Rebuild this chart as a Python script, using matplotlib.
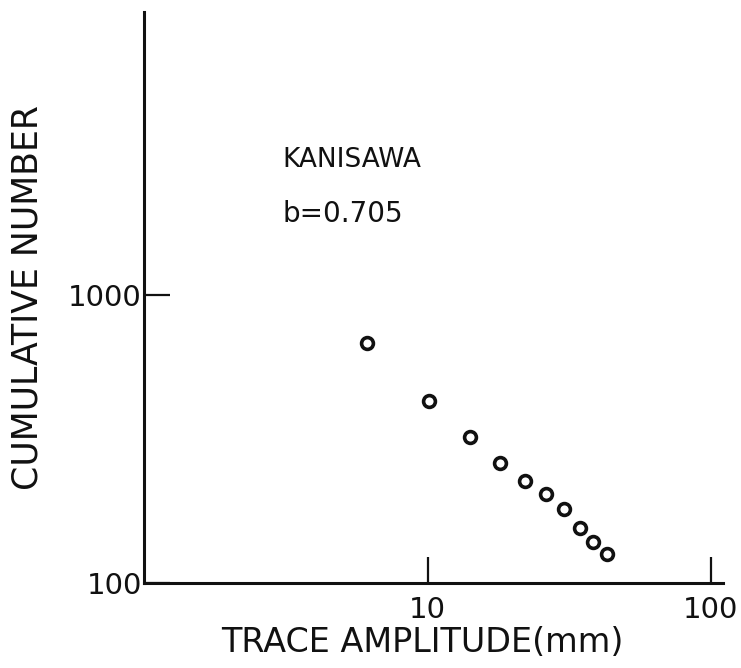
import matplotlib
matplotlib.use("Agg")
from matplotlib import pyplot as plt
from matplotlib.ticker import FixedLocator, FixedFormatter, NullLocator

# trace amplitude (mm) and cumulative number
amplitude = [6.1, 10.1, 14.05, 18.05, 22.1, 26.2, 30.4, 34.6, 38.4, 43.0]
cum_number = [683, 429, 322, 262, 226, 203.5, 180.6, 155.2, 138.8, 126.7]

x_ticks = [10, 100]
x_tick_labels = ["10", "100"]
y_ticks = [100, 1000]
y_tick_labels = ["100", "1000"]

station = "KANISAWA"
b_value = "b=0.705"

fig = plt.figure(figsize=(7.41, 6.68), dpi=100)
ax = fig.add_axes([0.195, 0.127, 0.781, 0.855])

ax.plot(amplitude, cum_number, linestyle="none", marker="o",
        markersize=8.5, markerfacecolor="white", markeredgecolor="#111111",
        markeredgewidth=2.6)

ax.set_xscale("log")
ax.set_yscale("log")
ax.set_xlim(1, 110.5)
ax.set_ylim(100, 9585)

for side in ["top", "right"]:
    ax.spines[side].set_visible(False)
for side in ["left", "bottom"]:
    ax.spines[side].set_linewidth(2.2)
    ax.spines[side].set_color("#111111")

ax.xaxis.set_major_locator(FixedLocator(x_ticks))
ax.xaxis.set_major_formatter(FixedFormatter(x_tick_labels))
ax.yaxis.set_major_locator(FixedLocator(y_ticks))
ax.yaxis.set_major_formatter(FixedFormatter(y_tick_labels))
ax.xaxis.set_minor_locator(NullLocator())
ax.yaxis.set_minor_locator(NullLocator())

ax.tick_params(axis="both", direction="in", length=19, width=1.6,
               color="#111111", labelsize=21, labelcolor="#111111")
ax.tick_params(axis="x", pad=9)
ax.tick_params(axis="y", pad=2)

ax.set_xlabel("TRACE AMPLITUDE(mm)", fontsize=24, color="#111111", labelpad=5)
ax.set_ylabel("CUMULATIVE NUMBER", fontsize=25, color="#111111", labelpad=17)
ax.xaxis.set_label_coords(0.48, -0.075)

ax.text(0.239, 0.741, station, transform=ax.transAxes, fontsize=19,
        color="#111111", va="center", ha="left")
ax.text(0.239, 0.646, b_value, transform=ax.transAxes, fontsize=20,
        color="#111111", va="center", ha="left")

fig.savefig("out.png", dpi=100)
